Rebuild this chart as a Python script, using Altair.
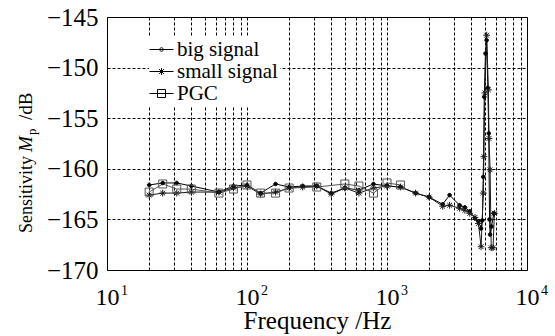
import altair as alt
import pandas as pd

# ---------------- data ----------------
series_names = ["big signal", "small signal", "PGC"]

freq_big = [20, 25, 31.5, 40, 63, 80, 100, 125, 160, 200, 250, 315, 400, 500, 630, 800,
            1000, 1250, 1600, 2000, 2500, 2800, 3300, 3600, 3900, 4250, 4500, 4700, 4800,
            4870, 4950, 5050, 5150, 5250, 5330, 5400, 5450, 5580, 5800]
sens_big = [-161.6, -161.4, -161.4, -161.7, -162.3, -161.7, -161.6, -162.4, -161.5, -161.8,
            -161.7, -161.7, -162.4, -161.9, -162.1, -161.5, -161.7, -161.8, -162.4, -162.8,
            -163.5, -162.6, -163.6, -163.8, -164.2, -164.9, -165.2, -165.9, -165.1,
            -160.8, -152.9, -148.6, -147.3, -152.0, -156.5, -165.0, -166.5, -165.7, -164.4]

freq_small = [20, 25, 31.5, 40, 63, 80, 100, 125, 160, 200, 250, 315, 400, 500, 630, 800,
              1000, 1250, 1600, 2000, 2500, 2800, 3300, 3600, 3900, 4250, 4500, 4700,
              4870, 4920, 5000, 5150, 5300, 5350, 5450, 5550, 5720, 5850]
sens_small = [-162.6, -162.4, -162.4, -162.3, -162.3, -161.9, -161.7, -162.5, -162.3, -161.9,
              -161.8, -161.7, -162.5, -161.9, -162.4, -161.9, -161.7, -161.8, -162.4, -162.8,
              -163.7, -163.6, -163.9, -164.1, -164.4, -164.8, -165.4, -167.7,
              -162.4, -158.8, -152.5, -146.8, -152.2, -157.0, -160.1, -167.8, -167.8, -164.4]

freq_pgc = [20, 25, 31.5, 40, 63, 80, 100, 125, 160, 200, 315, 500, 630, 800, 1000, 1250]
sens_pgc = [-162.3, -161.5, -162.0, -162.0, -162.4, -162.0, -161.6, -162.4, -162.4, -161.9,
            -161.8, -161.5, -161.7, -162.4, -161.4, -161.6]

x_grid = [10, 20, 30, 40, 50, 60, 70, 80, 90,
          100, 200, 300, 400, 500, 600, 700, 800, 900,
          1000, 2000, 3000, 4000, 5000, 6000, 7000, 8000, 9000, 10000]
decades = [10, 100, 1000, 10000]
exponents = ["1", "2", "3", "4"]
y_ticks = [-170, -165, -160, -155, -150, -145]

# ---------------- tables ----------------
df = pd.concat([
    pd.DataFrame({"f": freq_big, "s": sens_big, "series": series_names[0]}),
    pd.DataFrame({"f": freq_small, "s": sens_small, "series": series_names[1]}),
    pd.DataFrame({"f": freq_pgc, "s": sens_pgc, "series": series_names[2]}),
], ignore_index=True)
df_exp = pd.DataFrame({"f": decades, "e": exponents})
# legend-only rows (outside the domain and clipped; they only feed the legend)
df_leg = pd.DataFrame({"f": [1, 1, 1], "s": [-200, -200, -200], "entry": series_names})

FONT = "Liberation Serif"
W, H = 420, 253

x_scale = alt.Scale(type="log", domain=[10, 10000], nice=False)
y_scale = alt.Scale(domain=[-170, -145], nice=False, zero=False)

x_axis = alt.Axis(values=x_grid, title="Frequency /Hz", titleFont=FONT, titleFontSize=25,
                  titleFontWeight="normal", titleColor="black",
                  titleBaseline="alphabetic", titleY=58,
                  labelExpr="(datum.value == 10 || datum.value == 100 || datum.value == 1000 || datum.value == 10000) ? '10' : ''",
                  labelFont=FONT, labelFontSize=24, labelColor="black",
                  labelBaseline="alphabetic", labelPadding=34,
                  labelFlush=False, labelOverlap=False,
                  ticks=False, domain=False, grid=True, gridColor="black",
                  gridDash=[3, 2], gridOpacity=1, gridWidth=1)
y_axis = alt.Axis(values=y_ticks, format="d", title=None,
                  labelFont=FONT, labelFontSize=25, labelColor="black", labelPadding=9,
                  labelFlush=False, labelOverlap=False,
                  ticks=False, domain=False, grid=True, gridColor="black",
                  gridDash=[3, 2], gridOpacity=1, gridWidth=1)

X = alt.X("f:Q", scale=x_scale, axis=x_axis)
Y = alt.Y("s:Q", scale=y_scale, axis=y_axis)

colors = alt.Scale(domain=series_names, range=["black", "#1a1a1a", "#555555"])

DOT = "M-0.45,0A0.45,0.45 0 1,0 0.45,0A0.45,0.45 0 1,0 -0.45,0Z"
STAR = "M-0.85,0H0.85M0,-0.85V0.85M-0.6,-0.6L0.6,0.6M-0.6,0.6L0.6,-0.6"
SQUARE = "M-1,-1H1V1H-1Z"

L_DOT = "M-2,0H2M-0.3,0A0.3,0.3 0 1,0 0.3,0A0.3,0.3 0 1,0 -0.3,0Z"
L_STAR = "M-2,0H2M0,-0.57V0.57M-0.4,-0.4L0.4,0.4M-0.4,0.4L0.4,-0.4"
L_SQUARE = "M-2,0H2M-0.67,-0.67H0.67V0.67H-0.67Z"

legend = alt.Legend(
    title=None, orient="none", legendX=42, legendY=20,
    labelFont=FONT, labelFontSize=21, labelColor="black", labelOffset=5,
    symbolSize=144, fillColor="white", padding=2, rowPadding=0,
    symbolStrokeColor="black", symbolStrokeWidth=1, symbolFillColor="transparent",
    symbolOpacity=1,
)

lines = alt.Chart(df).mark_line(strokeWidth=1, clip=True).encode(
    x=X, y=Y,
    color=alt.Color("series:N", scale=colors, legend=None),
    detail="series:N",
)

points = alt.Chart(df).mark_point(size=64, filled=False, strokeWidth=1, opacity=1, clip=True).encode(
    x=X, y=Y,
    color=alt.Color("series:N", scale=colors, legend=None),
    fill=alt.Fill("series:N", scale=alt.Scale(domain=series_names, range=["black", "transparent", "transparent"]), legend=None),
    shape=alt.Shape("series:N", scale=alt.Scale(domain=series_names, range=[DOT, STAR, SQUARE]), legend=None),
)

leg_layer = alt.Chart(df_leg).mark_point(size=144, filled=False, strokeWidth=1, color="black", clip=True).encode(
    x=X, y=Y,
    shape=alt.Shape("entry:N", scale=alt.Scale(domain=series_names, range=[L_DOT, L_STAR, L_SQUARE]), legend=legend),
)

exps = alt.Chart(df_exp).mark_text(font=FONT, fontSize=14, align="left", baseline="alphabetic",
                                   dx=14, color="black").encode(
    x=X, y=alt.value(H + 25), text="e:N",
)

def ytitle(txt, y, x=-75, size=19, style="normal"):
    return alt.Chart(pd.DataFrame({"t": [txt]})).mark_text(
        font=FONT, fontSize=size, fontStyle=style, angle=270, align="left",
        baseline="alphabetic", color="black").encode(
        x=alt.value(x), y=alt.value(y), text="t:N")

title_parts = (ytitle("Sensitivity", 216, size=18) + ytitle("M", 135, style="italic")
               + ytitle("p", 118, x=-71, size=13) + ytitle("/dB", 103))

chart = alt.layer(lines, points, leg_layer, exps, title_parts).resolve_scale(
    shape="independent"
).properties(
    width=W, height=H,
    autosize=alt.AutoSizeParams(type="none"),
    padding={"left": 107, "top": 17, "right": 28, "bottom": 66},
).configure(font=FONT, background="white").configure_view(stroke="black", strokeWidth=1)

chart.save("out.html", embed_options={"renderer": "svg", "actions": False})
